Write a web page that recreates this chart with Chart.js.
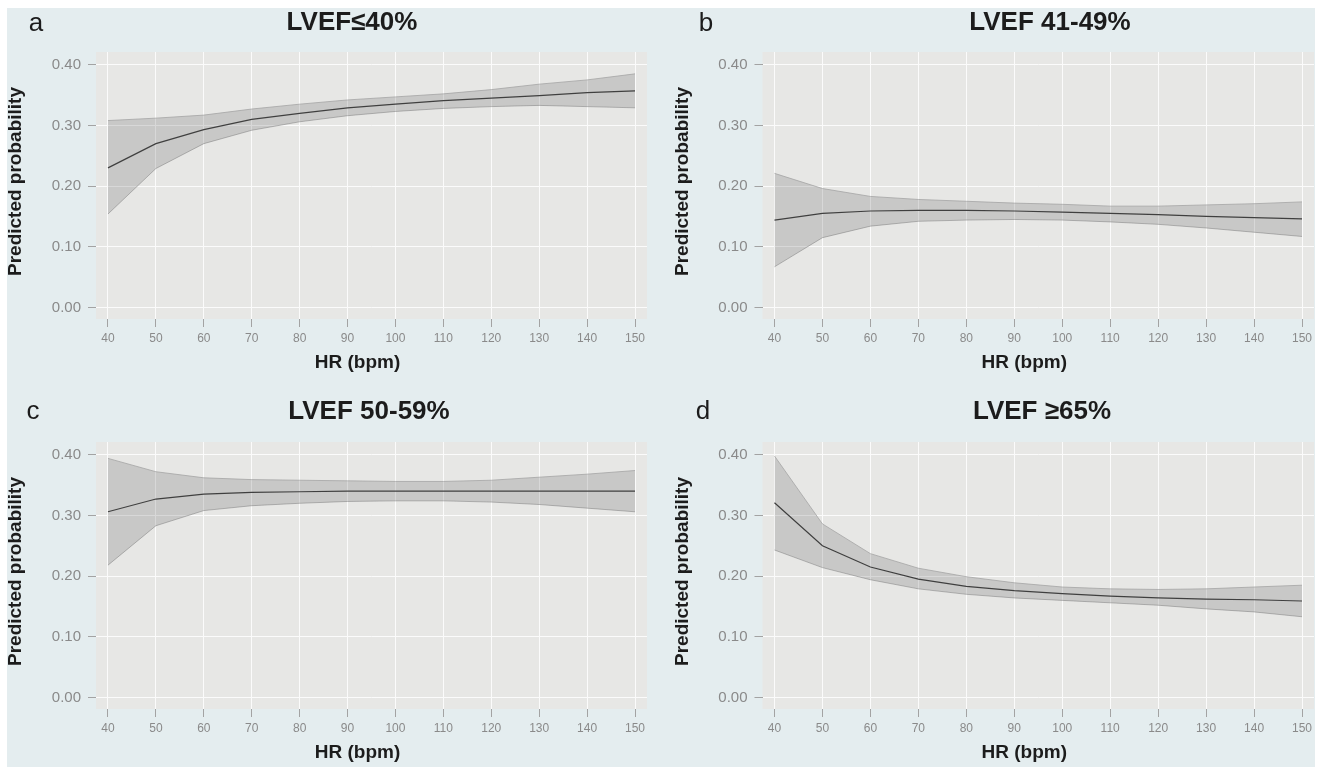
<!DOCTYPE html>
<html>
<head>
<meta charset="utf-8">
<script src="https://cdn.jsdelivr.net/npm/chart.js@4.4.1/dist/chart.umd.min.js"></script>
<style>
  html, body { margin: 0; padding: 0; background: #ffffff; }
  #page { position: relative; width: 1322px; height: 767px; overflow: hidden; background: #ffffff; }
  #panelbg { position: absolute; left: 7px; top: 8px; width: 1308px; height: 759px; background: #e4edef; }
  canvas { position: absolute; }
</style>
</head>
<body>
<div id="page">
  <div id="panelbg"></div>
  <canvas id="ca"></canvas>
  <canvas id="cb"></canvas>
  <canvas id="cc"></canvas>
  <canvas id="cd"></canvas>
</div>
<script>
// ---------- data ----------
const hr = [40, 50, 60, 70, 80, 90, 100, 110, 120, 130, 140, 150];
const xTicks = [40, 50, 60, 70, 80, 90, 100, 110, 120, 130, 140, 150];
const xTickLabels = ['40', '50', '60', '70', '80', '90', '100', '110', '120', '130', '140', '150'];
const yTicks = [0, 0.1, 0.2, 0.3, 0.4];
const yTickLabels = ['0.00', '0.10', '0.20', '0.30', '0.40'];

const panelLetters = ['a', 'b', 'c', 'd'];
const panelTitles = ['LVEF\u226440%', 'LVEF 41-49%', 'LVEF 50-59%', 'LVEF \u226565%'];
const xAxisTitle = 'HR (bpm)';
const yAxisTitle = 'Predicted probability';

// a: LVEF<=40%
const aFit   = [0.230, 0.270, 0.293, 0.310, 0.320, 0.329, 0.335, 0.341, 0.345, 0.349, 0.354, 0.357];
const aUpper = [0.308, 0.312, 0.317, 0.327, 0.335, 0.342, 0.347, 0.352, 0.359, 0.368, 0.375, 0.385];
const aLower = [0.154, 0.229, 0.270, 0.292, 0.306, 0.316, 0.323, 0.328, 0.331, 0.333, 0.331, 0.329];
// b: LVEF 41-49%
const bFit   = [0.144, 0.155, 0.159, 0.160, 0.160, 0.159, 0.157, 0.155, 0.153, 0.150, 0.148, 0.146];
const bUpper = [0.221, 0.196, 0.183, 0.178, 0.175, 0.172, 0.170, 0.167, 0.167, 0.169, 0.171, 0.174];
const bLower = [0.067, 0.115, 0.134, 0.142, 0.144, 0.145, 0.144, 0.141, 0.137, 0.131, 0.124, 0.117];
// c: LVEF 50-59%
const cFit   = [0.306, 0.327, 0.335, 0.338, 0.339, 0.340, 0.340, 0.340, 0.340, 0.340, 0.340, 0.340];
const cUpper = [0.394, 0.372, 0.362, 0.359, 0.358, 0.357, 0.356, 0.356, 0.358, 0.363, 0.368, 0.374];
const cLower = [0.218, 0.283, 0.308, 0.316, 0.320, 0.323, 0.324, 0.324, 0.322, 0.318, 0.312, 0.306];
// d: LVEF >=65%
const dFit   = [0.321, 0.250, 0.215, 0.195, 0.183, 0.176, 0.171, 0.167, 0.164, 0.162, 0.161, 0.159];
const dUpper = [0.398, 0.286, 0.237, 0.213, 0.199, 0.189, 0.182, 0.179, 0.178, 0.179, 0.182, 0.185];
const dLower = [0.243, 0.214, 0.194, 0.179, 0.170, 0.164, 0.160, 0.156, 0.152, 0.146, 0.141, 0.133];

// ---------- styling / layout ----------
const FONT = "'Liberation Sans', Arial, Helvetica, sans-serif";
const TEXT_DARK = '#1c1c1c';
const TICK_GREY = '#8a8a8a';
const PLOT_BG = '#e7e7e5';

const panelBgPlugin = {
  id: 'plotBg',
  beforeDraw(chart) {
    const a = chart.chartArea;
    const ctx = chart.ctx;
    ctx.save();
    ctx.fillStyle = PLOT_BG;
    ctx.fillRect(a.left, a.top, a.right - a.left, a.bottom - a.top);
    ctx.restore();
  }
};

const panelTextPlugin = {
  id: 'panelText',
  afterDraw(chart, args, o) {
    const ctx = chart.ctx;
    const a = chart.chartArea;
    ctx.save();
    ctx.fillStyle = TEXT_DARK;
    ctx.textBaseline = 'alphabetic';
    ctx.textAlign = 'center';
    // panel letter
    ctx.font = "26px " + FONT;
    ctx.fillText(o.letter, o.letterX, o.baseY + 0.5);
    // title
    ctx.font = "bold 26px " + FONT;
    ctx.fillText(o.title, o.titleX, o.baseY);
    // x axis title
    ctx.font = "bold 19px " + FONT;
    ctx.fillText(xAxisTitle, (a.left + a.right) / 2 - 14, o.xTitleY);
    // y axis title
    ctx.font = "bold 19px " + FONT;
    ctx.translate(o.yTitleX, (a.top + a.bottom) / 2 - 4);
    ctx.rotate(-Math.PI / 2);
    ctx.textBaseline = 'middle';
    ctx.fillText(yAxisTitle, 0, 0);
    ctx.restore();
  }
};

function makePanel(id, pos, letter, title, fit, upper, lower, geo) {
  const cv = document.getElementById(id);
  cv.width = geo.W; cv.height = geo.H;
  cv.style.left = pos[0] + 'px'; cv.style.top = pos[1] + 'px';
  cv.style.width = geo.W + 'px'; cv.style.height = geo.H + 'px';
  const pts = arr => hr.map((x, i) => ({ x: x, y: arr[i] }));
  return new Chart(cv, {
    type: 'line',
    data: {
      datasets: [
        { label: 'Upper 95% CI', data: pts(upper), fill: '+1',
          backgroundColor: 'rgba(105,105,105,0.24)', borderColor: '#a5a5a5', borderWidth: 0.8,
          pointRadius: 0, tension: 0 },
        { label: 'Lower 95% CI', data: pts(lower), fill: false,
          borderColor: '#a5a5a5', borderWidth: 0.8, pointRadius: 0, tension: 0 },
        { label: 'Predicted probability', data: pts(fit), fill: false,
          borderColor: '#333333', borderWidth: 1.2, pointRadius: 0, tension: 0 }
      ]
    },
    options: {
      responsive: false,
      animation: false,
      devicePixelRatio: 1,
      layout: { padding: { top: geo.top, left: 0, right: geo.W - geo.right, bottom: 0 } },
      plugins: {
        legend: { display: false },
        tooltip: { enabled: false },
        title: { display: false },
        panelText: { letter: letter, title: title, letterX: geo.letterX, titleX: geo.titleX,
                     baseY: geo.baseY, xTitleY: geo.xTitleY, yTitleX: geo.yTitleX }
      },
      scales: {
        x: {
          type: 'linear', min: 37.5, max: 152.5,
          afterBuildTicks: s => { s.ticks = xTicks.map(v => ({ value: v })); },
          afterFit: s => { s.height = geo.H - geo.bottom; },
          border: { display: false },
          grid: { color: '#fbfbfb', lineWidth: 1, drawTicks: true, tickLength: 8, tickColor: '#a3a3a3', tickWidth: 1 },
          ticks: { color: TICK_GREY, font: { family: FONT, size: 12 }, padding: 4, maxRotation: 0, autoSkip: false,
                   callback: (v, i) => xTickLabels[i] }
        },
        y: {
          type: 'linear', min: -0.019, max: 0.421,
          afterBuildTicks: s => { s.ticks = yTicks.map(v => ({ value: v })); },
          afterFit: s => { s.width = geo.left; },
          border: { display: false },
          grid: { color: '#fbfbfb', lineWidth: 1, drawTicks: true, tickLength: 8, tickColor: '#a3a3a3', tickWidth: 1 },
          ticks: { color: TICK_GREY, font: { family: FONT, size: 15 }, padding: 7,
                   callback: (v, i) => yTickLabels[i] }
        }
      }
    },
    plugins: [panelBgPlugin, panelTextPlugin]
  });
}

const geoA = { W: 661, H: 380, left: 96, right: 647, top: 52, bottom: 319, letterX: 36, titleX: 352, baseY: 30, xTitleY: 368, yTitleX: 16 };
const geoB = { W: 661, H: 380, left: 101.5, right: 653, top: 52, bottom: 319, letterX: 45, titleX: 389, baseY: 30, xTitleY: 368, yTitleX: 22 };
const geoC = { W: 661, H: 377, left: 96, right: 647, top: 52, bottom: 319, letterX: 33, titleX: 369, baseY: 28.5, xTitleY: 368, yTitleX: 16 };
const geoD = { W: 661, H: 377, left: 101.5, right: 653, top: 52, bottom: 319, letterX: 42, titleX: 381, baseY: 28.5, xTitleY: 368, yTitleX: 22 };

makePanel('ca', [0, 0],   panelLetters[0], panelTitles[0], aFit, aUpper, aLower, geoA);
makePanel('cb', [661, 0], panelLetters[1], panelTitles[1], bFit, bUpper, bLower, geoB);
makePanel('cc', [0, 390], panelLetters[2], panelTitles[2], cFit, cUpper, cLower, geoC);
makePanel('cd', [661, 390], panelLetters[3], panelTitles[3], dFit, dUpper, dLower, geoD);
</script>
</body>
</html>
